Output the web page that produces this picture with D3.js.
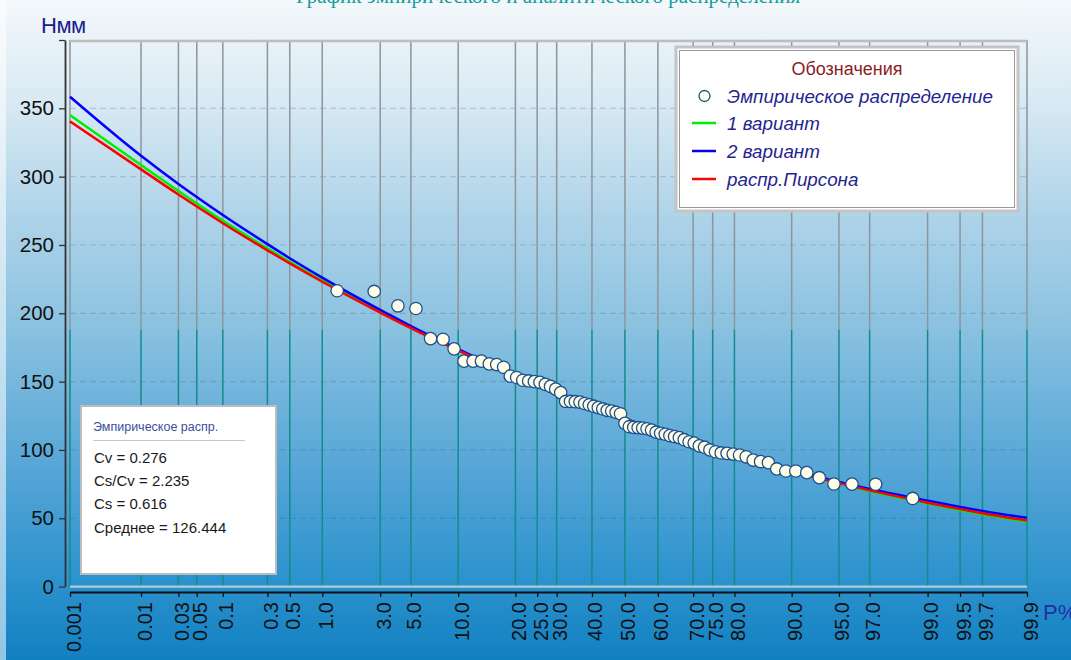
<!DOCTYPE html>
<html>
<head>
<meta charset="utf-8">
<script src="https://cdn.jsdelivr.net/npm/d3@7"></script>
<style>
  html, body { margin: 0; padding: 0; overflow: hidden; background: #ffffff; }
  svg { display: block; }
</style>
</head>
<body>
<svg id="chart" width="1071" height="660"></svg>
<script>
// Exceedance probability grid (%) used for ticks and for the analytic curves
const probTicks = [0.001, 0.01, 0.03, 0.05, 0.1, 0.3, 0.5, 1, 3, 5, 10, 20, 25, 30, 40, 50,
                   60, 70, 75, 80, 90, 95, 97, 99, 99.5, 99.7, 99.9];
const probLabels = ["0.001", "0.01", "0.03", "0.05", "0.1", "0.3", "0.5", "1.0", "3.0", "5.0",
                    "10.0", "20.0", "25.0", "30.0", "40.0", "50.0", "60.0", "70.0", "75.0",
                    "80.0", "90.0", "95.0", "97.0", "99.0", "99.5", "99.7", "99.9"];

// Analytic curves, H (mm) at each probability in probTicks
const variant1 = [345, 308.5, 289.5, 280.4, 267.8, 247.5, 237.6, 223.9, 200.9, 189.4, 172.9,
                  154.2, 147.6, 141.8, 131.8, 122.9, 114.4, 105.8, 101.3, 96.5, 84.5, 75.4,
                  70, 60.8, 56, 52.9, 47.4];
const variant2 = [358.5, 315.3, 294.7, 285.1, 271.9, 250.6, 240.3, 226.1, 202.5, 190.7, 173.8,
                  154.7, 147.9, 142, 131.8, 122.9, 114.5, 106.1, 101.7, 97, 85.3, 76.5, 71.4,
                  62.9, 58.3, 55.3, 50.3];
const pearson = [340.5, 305.3, 286.9, 278.1, 265.9, 246.1, 236.5, 223.1, 200.5, 189.2, 172.8,
                 154.2, 147.6, 141.8, 131.8, 122.9, 114.5, 105.9, 101.4, 96.6, 84.7, 75.7,
                 70.4, 61.4, 56.7, 53.7, 48.3];

// Empirical series: plotting positions (%) and observed H (mm), ranked
const empiricalP = [1.35, 2.70, 4.05, 5.41, 6.76, 8.11, 9.46, 10.81, 12.16, 13.51, 14.86, 16.22,
                    17.57, 18.92, 20.27, 21.62, 22.97, 24.32, 25.68, 27.03, 28.38, 29.73, 31.08,
                    32.43, 33.78, 35.14, 36.49, 37.84, 39.19, 40.54, 41.89, 43.24, 44.59, 45.95,
                    47.30, 48.65, 50.00, 51.35, 52.70, 54.05, 55.41, 56.76, 58.11, 59.46, 60.81,
                    62.16, 63.51, 64.86, 66.22, 67.57, 68.92, 70.27, 71.62, 72.97, 74.32, 75.68,
                    77.03, 78.38, 79.73, 81.08, 82.43, 83.78, 85.14, 86.49, 87.84, 89.19, 90.54,
                    91.89, 93.24, 94.59, 95.95, 97.30, 98.65];
const empiricalH = [216.5, 216, 205.5, 203.5, 181.5, 181, 174, 165, 165, 165, 163, 162.5, 160.5,
                    154, 153, 151, 150.5, 150, 149.5, 148, 146.5, 144.5, 142, 135.5, 135.5, 135.3,
                    135, 134, 133, 132, 131, 130, 129, 128.5, 127.5, 126.5, 119.5, 117, 116.5,
                    116.3, 116, 115.5, 114.5, 113, 112.2, 111.5, 110.5, 109.8, 109, 107.5, 106,
                    105, 103, 102, 100, 98.7, 97.8, 97.5, 97, 96.3, 95, 92.6, 91.5, 90.7, 86.1,
                    84.6, 84.6, 83.4, 79.7, 75.1, 75, 74.9, 64.5];

const yTicks = [0, 50, 100, 150, 200, 250, 300, 350, 400];

const chartTitle = "График эмпирического и аналитического распределения";
const yTitle = "Нмм";
const xTitle = "Р%";
const legendTitle = "Обозначения";
const legendLabels = ["Эмпирическое распределение", "1 вариант", "2 вариант", "распр.Пирсона"];
const statsTitle = "Эмпирическое распр.";
const statsLines = ["Cv = 0.276", "Cs/Cv = 2.235", "Cs = 0.616", "Среднее = 126.444"];

// Inverse standard normal CDF (Acklam's rational approximation)
function probit(p) {
  const a = [-3.969683028665376e+01, 2.209460984245205e+02, -2.759285104469687e+02,
             1.383577518672690e+02, -3.066479806614716e+01, 2.506628277459239e+00];
  const b = [-5.447609879822406e+01, 1.615858368580409e+02, -1.556989798598866e+02,
             6.680131188771972e+01, -1.328068155288572e+01];
  const c = [-7.784894002430293e-03, -3.223964580411365e-01, -2.400758277161838e+00,
             -2.549671348193130e+00, 4.374664141464968e+00, 2.938163982698783e+00];
  const d = [7.784695709041462e-03, 3.224671290700398e-01, 2.445134137142996e+00,
             3.754408661907416e+00];
  const plow = 0.02425, phigh = 1 - plow;
  let q, r;
  if (p < plow) {
    q = Math.sqrt(-2 * Math.log(p));
    return (((((c[0]*q + c[1])*q + c[2])*q + c[3])*q + c[4])*q + c[5]) /
           ((((d[0]*q + d[1])*q + d[2])*q + d[3])*q + 1);
  } else if (p <= phigh) {
    q = p - 0.5; r = q * q;
    return (((((a[0]*r + a[1])*r + a[2])*r + a[3])*r + a[4])*r + a[5]) * q /
           (((((b[0]*r + b[1])*r + b[2])*r + b[3])*r + b[4])*r + 1);
  } else {
    q = Math.sqrt(-2 * Math.log(1 - p));
    return -(((((c[0]*q + c[1])*q + c[2])*q + c[3])*q + c[4])*q + c[5]) /
            ((((d[0]*q + d[1])*q + d[2])*q + d[3])*q + 1);
  }
}
const zOf = pct => probit(pct / 100);

const svg = d3.select("#chart");
const W = 1071, H = 660;
const plot = { left: 70, right: 1027, top: 40, bottom: 586.6 };

// Background gradient
const defs = svg.append("defs");
const grad = defs.append("linearGradient").attr("id", "bg")
  .attr("x1", 0).attr("y1", 0).attr("x2", 0).attr("y2", 1);
[[0, "#f4f8fb"], [0.15, "#d9eaf4"], [0.32, "#b0d4e9"], [0.5, "#89c1e0"],
 [0.7, "#58a7d7"], [0.88, "#2c92cd"], [1, "#1180c1"]]
  .forEach(([o, c]) => grad.append("stop").attr("offset", o).attr("stop-color", c));

svg.append("rect").attr("width", W).attr("height", H).attr("fill", "url(#bg)");
svg.append("rect").attr("width", 6).attr("height", H).attr("fill", "#ffffff").attr("opacity", 0.55);

// Scales: normal-probability x, linear y
const x = d3.scaleLinear()
  .domain([zOf(probTicks[0]), zOf(probTicks[probTicks.length - 1])])
  .range([plot.left, plot.right]);
const y = d3.scaleLinear().domain([0, 400]).range([plot.bottom, plot.top]);

// Title (runs off the top edge)
svg.append("text")
  .attr("x", 548).attr("y", 3)
  .attr("text-anchor", "middle")
  .attr("font-family", "'Liberation Serif', serif")
  .attr("font-size", 21)
  .attr("fill", "#129c9c")
  .text(chartTitle);

// Horizontal dashed grid
svg.append("g").selectAll("line").data(yTicks.filter(v => v > 0 && v < 400)).join("line")
  .attr("x1", plot.left).attr("x2", plot.right)
  .attr("y1", d => y(d)).attr("y2", d => y(d))
  .attr("stroke", "rgba(70,90,110,0.24)")
  .attr("stroke-width", 1.2)
  .attr("stroke-dasharray", "6,4");

// Vertical grid: grey upper part, teal lower part
const splitValue = 188;
const vgrid = svg.append("g");
vgrid.selectAll("line.up").data(probTicks).join("line").attr("class", "up")
  .attr("x1", d => x(zOf(d))).attr("x2", d => x(zOf(d)))
  .attr("y1", plot.top).attr("y2", y(splitValue))
  .attr("stroke", "#8e959a").attr("stroke-width", 1.5);
vgrid.selectAll("line.low").data(probTicks).join("line").attr("class", "low")
  .attr("x1", d => x(zOf(d))).attr("x2", d => x(zOf(d)))
  .attr("y1", y(splitValue)).attr("y2", plot.bottom)
  .attr("stroke", "#138b8c").attr("stroke-width", 1.5);

// Plot frame top and bottom
svg.append("line").attr("x1", plot.left).attr("x2", plot.right)
  .attr("y1", plot.top + 1).attr("y2", plot.top + 1)
  .attr("stroke", "#bdbdbd").attr("stroke-width", 2.5);
svg.append("line").attr("x1", plot.left).attr("x2", plot.right)
  .attr("y1", plot.bottom).attr("y2", plot.bottom)
  .attr("stroke", "#b0cbdc").attr("stroke-width", 2.2);

// Analytic curves
const line = d3.line()
  .x(d => x(zOf(d[0])))
  .y(d => y(d[1]))
  .curve(d3.curveMonotoneX);
const curves = [
  { values: variant1, color: "#00ee00" },
  { values: variant2, color: "#0000ff" },
  { values: pearson, color: "#ff0000" }
];
curves.forEach(cv => {
  svg.append("path")
    .datum(probTicks.map((p, i) => [p, cv.values[i]]))
    .attr("d", line)
    .attr("fill", "none")
    .attr("stroke", cv.color)
    .attr("stroke-width", 2.5);
});

// Empirical points
svg.append("g").selectAll("circle").data(empiricalP.map((p, i) => [p, empiricalH[i]])).join("circle")
  .attr("cx", d => x(zOf(d[0])))
  .attr("cy", d => y(d[1]))
  .attr("r", 6.2)
  .attr("fill", "#fffde8")
  .attr("stroke", "#1d4f8c")
  .attr("stroke-width", 1.3);

// Y axis
const yAxis = svg.append("g").attr("transform", "translate(65,0)")
  .call(d3.axisLeft(y).tickValues(yTicks).tickSize(6).tickSizeOuter(0).tickPadding(5)
        .tickFormat(d => d === 400 ? "" : d));
yAxis.select(".domain").attr("stroke", "#333").attr("stroke-width", 1.8);
yAxis.selectAll(".tick line").attr("stroke", "#333").attr("stroke-width", 1.3);
yAxis.selectAll(".tick text")
  .attr("font-family", "'Liberation Sans', Arial, sans-serif")
  .attr("font-size", 20.5).attr("fill", "#111");

// X axis with rotated labels
const xAxis = svg.append("g").attr("transform", "translate(0,592)")
  .call(d3.axisBottom(x).tickValues(probTicks.map(zOf)).tickSize(5).tickSizeOuter(0)
        .tickFormat((d, i) => probLabels[i]));
xAxis.select(".domain").attr("stroke", "#111").attr("stroke-width", 1.8);
xAxis.selectAll(".tick line").attr("stroke", "#111").attr("stroke-width", 1.3);
xAxis.selectAll(".tick text")
  .attr("font-family", "'Liberation Sans', Arial, sans-serif")
  .attr("font-size", 20).attr("fill", "#111")
  .attr("y", 0).attr("x", -10).attr("dy", "0.5em")
  .attr("transform", "rotate(-90)")
  .style("text-anchor", "end");

// Axis titles
svg.append("text").attr("x", 41).attr("y", 33)
  .attr("font-family", "'Liberation Sans', Arial, sans-serif")
  .attr("font-size", 22).attr("fill", "#1c1c8c")
  .attr("letter-spacing", -0.5)
  .text(yTitle);
svg.append("text").attr("x", 1043).attr("y", 620)
  .attr("font-family", "'Liberation Sans', Arial, sans-serif")
  .attr("font-size", 22).attr("fill", "#2030a8")
  .text(xTitle);

// Legend
const lg = svg.append("g");
lg.append("rect").attr("x", 676).attr("y", 47).attr("width", 342).attr("height", 164)
  .attr("fill", "#ffffff").attr("stroke", "#c4c4c4").attr("stroke-width", 3);
lg.append("rect").attr("x", 679.5).attr("y", 50.5).attr("width", 335).attr("height", 157)
  .attr("fill", "none").attr("stroke", "#9a9a9a").attr("stroke-width", 1);
lg.append("text").attr("x", 847).attr("y", 75)
  .attr("text-anchor", "middle")
  .attr("font-family", "'Liberation Sans', Arial, sans-serif")
  .attr("font-size", 18).attr("fill", "#8b1e1e")
  .text(legendTitle);
const legendRows = [96, 123, 151, 179];
lg.append("circle").attr("cx", 704.5).attr("cy", legendRows[0]).attr("r", 5.5)
  .attr("fill", "#fffde8").attr("stroke", "#1d4f8c").attr("stroke-width", 1.3);
curves.forEach((cv, i) => {
  lg.append("line").attr("x1", 692).attr("x2", 716)
    .attr("y1", legendRows[i + 1]).attr("y2", legendRows[i + 1])
    .attr("stroke", cv.color).attr("stroke-width", 2.5);
});
lg.selectAll("text.item").data(legendLabels).join("text").attr("class", "item")
  .attr("x", 727).attr("y", (d, i) => legendRows[i] + 7)
  .attr("font-family", "'Liberation Sans', Arial, sans-serif")
  .attr("font-style", "italic")
  .attr("font-size", 18.8).attr("fill", "#25258f")
  .text(d => d);

// Statistics box
const sb = svg.append("g");
sb.append("rect").attr("x", 81).attr("y", 406).attr("width", 195).attr("height", 168)
  .attr("fill", "#ffffff").attr("stroke", "#bcbcbc").attr("stroke-width", 2);
sb.append("text").attr("x", 93).attr("y", 431)
  .attr("font-family", "'Liberation Sans', Arial, sans-serif")
  .attr("font-size", 12.5).attr("fill", "#3a4f9c")
  .text(statsTitle);
sb.append("line").attr("x1", 93).attr("x2", 245).attr("y1", 440.5).attr("y2", 440.5)
  .attr("stroke", "#c8c8c8").attr("stroke-width", 1.2);
sb.selectAll("text.stat").data(statsLines).join("text").attr("class", "stat")
  .attr("x", 94).attr("y", (d, i) => 463 + i * 23.2)
  .attr("font-family", "'Liberation Sans', Arial, sans-serif")
  .attr("font-size", 15).attr("fill", "#1a1a1a")
  .text(d => d);
</script>
</body>
</html>
